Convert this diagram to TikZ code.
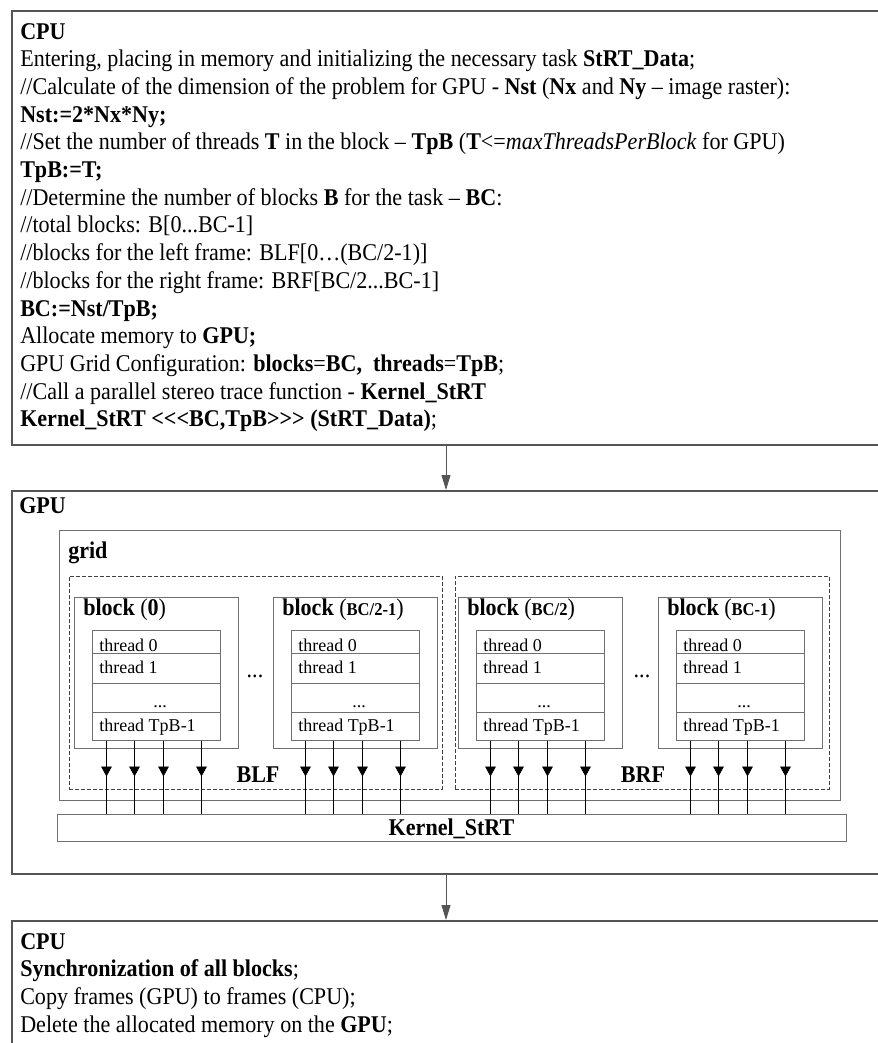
\documentclass[tikz,border=0pt]{standalone}
\usepackage{fontspec}
\setmainfont{Liberation Serif}[FakeStretch=0.92]
\newfontfamily\thrfont{Liberation Serif}
\usetikzlibrary{arrows.meta,fit,calc,positioning}

\definecolor{framegray}{HTML}{555555}
\definecolor{linegray}{HTML}{707070}
\newcommand\txtsize{\fontsize{18pt}{20.8pt}\selectfont}
\newcommand\thrsize{\fontsize{13.5pt}{16pt}\selectfont}

\tikzset{
	outerbox/.style={draw=framegray, line width=1.5pt, inner sep=0pt},
	innerbox/.style={draw=linegray, line width=0.75pt, inner sep=0pt},
	rowline/.style={draw=linegray, line width=0.75pt},
	dashbox/.style={draw=black!75, line width=0.6pt, dash pattern=on 3pt off 1.5pt, inner sep=0pt},
	txt/.style={font=\txtsize, inner sep=0pt, anchor=base west},
	thr/.style={font=\thrfont\thrsize, inner sep=0pt, anchor=base west},
	bigarrow/.style={draw=framegray, line width=0.75pt, -{Triangle[length=11.25pt,width=6.75pt]}},
	tline/.style={draw=black, line width=0.6pt},
	tarrow/.style={draw=black, line width=0.6pt, -{Triangle[length=7.5pt,width=8pt]}}
}

\begin{document}
\begin{tikzpicture}[x=0.75pt, y=-0.75pt]

				\useasboundingbox (0,0) rectangle (878,1043);

				% Frames

				\node[outerbox, fit={(12,11) (880,445)}] (cpuin) {};
				\node[outerbox, fit={(12,491) (880,874)}] (gpu) {};
				\node[outerbox, fit={(12,921) (880,1060)}] (cpuout) {};
				\node[innerbox, fit={(59,530) (840,800)}] (grid) {};
				\node[dashbox, fit={(69,576) (442,789)}] (blf) {};
				\node[dashbox, fit={(455,576) (829,789)}] (brf) {};
				\node[innerbox, fit={(57,814) (846,841)}] (kern) {};

				\draw[bigarrow] (cpuin.south) -- (gpu.north);
				\draw[bigarrow] (gpu.south) -- (cpuout.north);

				% First CPU part

				\node[txt] (in1) at (20,39) {\textbf{CPU}};
				\node[txt] (in2) at (20,66.7) {Entering, placing in memory and initializing the necessary task \textbf{StRT\_Data};};
				\node[txt] (in3) at (20,94.4) {//Calculate of the dimension of the problem for GPU - \textbf{Nst} (\textbf{Nx} and \textbf{Ny} – image raster):};
				\node[txt] (in4) at (20,122.1) {\textbf{Nst:=2*Nx*Ny;}};
				\node[txt] (in5) at (20,149.8) {//Set the number of threads \textbf{T} in the block – \textbf{TpB} (\textbf{T}<=\textit{maxThreadsPerBlock} for GPU)};
				\node[txt] (in6) at (20,177.5) {\textbf{TpB:=T;}};
				\node[txt] (in7) at (20,205.2) {//Determine the number of blocks \textbf{B} for the task – \textbf{BC}:};
				\node[txt] (in8) at (20,232.9) {//total blocks: B[0...BC-1]};
				\node[txt] (in9) at (20,260.6) {//blocks for the left frame: BLF[0…(BC/2-1)]};
				\node[txt] (in10) at (20,288.3) {//blocks for the right frame: BRF[BC/2...BC-1]};
				\node[txt] (in11) at (20,316) {\textbf{BC:=Nst/TpB;}};
				\node[txt] (in12) at (20,343.7) {Allocate memory to \textbf{GPU;}};
				\node[txt] (in13) at (20,371.4) {GPU Grid Configuration: \textbf{blocks}=\textbf{BC,}\ \ \textbf{threads}=\textbf{TpB};};
				\node[txt] (in14) at (20,399.1) {//Call a parallel stereo trace function - \textbf{Kernel\_StRT}};
				\node[txt] (in15) at (20,426.8) {\textbf{Kernel\_StRT {<}{<}{<}BC,TpB{>}{>}{>} (StRT\_Data)};};

				% GPU part

				\node[txt] (gpulab) at (19,513) {\textbf{GPU}};
				\node[txt] (gridlab) at (68,558) {\textbf{grid}};

				\foreach \bx/\nm/\lab in {74/b0/{\textbf{0}}, 273/b1/{\thrsize\textbf{BC/2-1}}, 458/b2/{\thrsize\textbf{BC/2}}, 658/b3/{\thrsize\textbf{BC-1}}}{
					\node[innerbox, fit={(\bx,597) (\bx+164,748)}] (\nm) {};
					\node[txt] (\nm-lab) at (\bx+9,615) {\textbf{block} ({\lab})};
					\node[innerbox, fit={(\bx+18,630) (\bx+146,740)}] (\nm-t) {};
					\draw[rowline] (\bx+18,653) -- (\bx+146,653);
					\draw[rowline] (\bx+18,683) -- (\bx+146,683);
					\draw[rowline] (\bx+18,712) -- (\bx+146,712);
					\node[thr] (\nm-r0) at (\bx+25,651) {thread 0};
					\node[thr] (\nm-r1) at (\bx+25,673) {thread 1};
					\node[thr, anchor=base] (\nm-r2) at (\bx+86,707) {...};
					\node[thr] (\nm-r3) at (\bx+25,731) {thread TpB-1};
					\foreach \d in {33,61,90,128}{
						\coordinate (\nm-a\d) at ($(\nm-t.south west)+(\d-18,0)$);
						\draw[tline] (\nm-a\d) -- (\nm-a\d |- kern.north);
						\draw[tarrow] (\nm-a\d) -- ++(0,36);
					}
				}

				\node[txt, anchor=base] (dots1) at (255,677) {...};
				\node[txt, anchor=base] (dots2) at (642,677) {...};
				\node[txt, anchor=base] (blflab) at (258,782) {\textbf{BLF}};
				\node[txt, anchor=base] (brflab) at (643,782) {\textbf{BRF}};
				\node[txt, anchor=base] (kernlab) at (451.5,835) {\textbf{Kernel\_StRT}};

				% Second CPU part

				\node[txt] (out1) at (20,949) {\textbf{CPU}};
				\node[txt] (out2) at (20,976.7) {\textbf{Synchronization of all blocks};};
				\node[txt] (out3) at (20,1004.4) {Copy frames (GPU) to frames (CPU);};
				\node[txt] (out4) at (20,1032.1) {Delete the allocated memory on the \textbf{GPU};};

\end{tikzpicture}
\end{document}
